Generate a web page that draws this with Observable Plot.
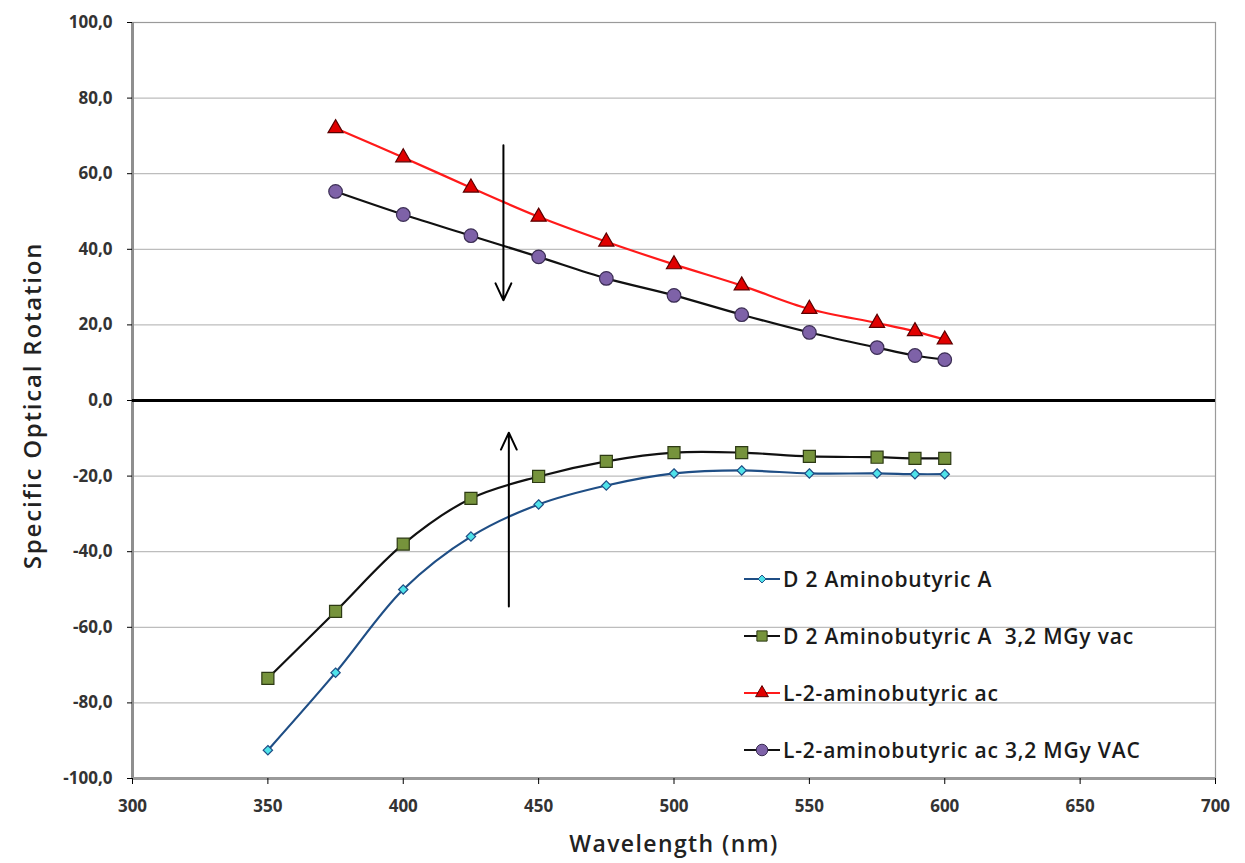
<!DOCTYPE html>
<html>
<head>
<meta charset="utf-8">
<script src="https://cdn.jsdelivr.net/npm/d3@7"></script>
<script src="https://cdn.jsdelivr.net/npm/@observablehq/plot@0.6"></script>
<style>
  html, body { margin: 0; padding: 0; background: #fff; }
  #wrap { position: relative; width: 1245px; height: 863px; font-family: "Open Sans", sans-serif; }
  #legend { position: absolute; left: 742px; top: 550px; }
  .li { display: flex; align-items: center; height: 57px; font-size: 21px; letter-spacing: 0.8px; font-weight: 600; color: #1a1a1a; white-space: pre; }
  .li svg { margin-right: 1px; }
</style>
</head>
<body>
<div id="wrap"></div>
<script>
// Data (wavelength nm -> specific optical rotation)
const wavelengths = [350, 375, 400, 425, 450, 475, 500, 525, 550, 575, 589, 600];
const dAmino      = [-92.5, -72, -50, -36, -27.5, -22.5, -19.3, -18.5, -19.3, -19.3, -19.5, -19.5];
const dAminoIrr   = [-73.5, -55.8, -38, -25.9, -20.1, -16.1, -13.8, -13.8, -14.8, -15, -15.3, -15.3];
const lWavelengths = [375, 400, 425, 450, 475, 500, 525, 550, 575, 589, 600];
const lAmino      = [72, 64.3, 56.3, 48.6, 42, 36, 30.4, 24.2, 20.5, 18.3, 16.1];
const lAminoIrr   = [55.3, 49.2, 43.6, 38, 32.3, 27.8, 22.7, 18, 14, 11.9, 10.8];
const seriesNames = ["D 2 Aminobutyric A", "D 2 Aminobutyric A  3,2 MGy vac", "L-2-aminobutyric ac", "L-2-aminobutyric ac 3,2 MGy VAC"];
const xTicks = [300, 350, 400, 450, 500, 550, 600, 650, 700];
const yTicks = [-100, -80, -60, -40, -20, 0, 20, 40, 60, 80, 100];
// annotation arrows (wavelength, from, to)
const arrowX1 = [437, 439];
const arrowFrom = [67.5, -54.5];
const arrowTo = [26.5, -8.5];

const styles = [
  {line: "#1F4E85", fill: "#4FE3EA", stroke: "#1F4E85", symbol: "diamond2", r: 4.2},
  {line: "#111111", fill: "#76933C", stroke: "#2d3a14", symbol: "square", r: 6.8},
  {line: "#FF1A1A", fill: "#E00000", stroke: "#5a0000", symbol: "triangle", r: 5.6},
  {line: "#111111", fill: "#7E62A8", stroke: "#3c2e55", symbol: "circle", r: 6.8}
];

const tables = [
  wavelengths.map((w, i) => ({x: w, y: dAmino[i]})),
  wavelengths.map((w, i) => ({x: w, y: dAminoIrr[i]})),
  lWavelengths.map((w, i) => ({x: w, y: lAmino[i]})),
  lWavelengths.map((w, i) => ({x: w, y: lAminoIrr[i]}))
];
const arrows = arrowX1.map((x, i) => ({x, y1: arrowFrom[i], y2: arrowTo[i]}));

const fmt = d => d.toFixed(1).replace(".", ",");

const marks = [
  Plot.gridY(yTicks, {stroke: "#bdbdbd", strokeOpacity: 1, strokeWidth: 1.2}),
  Plot.frame({stroke: "#9a9a9a", strokeWidth: 1.2}),
  Plot.ruleX([300], {stroke: "#8f8f8f", strokeWidth: 3}),
  Plot.ruleY([-100], {stroke: "#9a9a9a", strokeWidth: 3}),
  Plot.ruleY([0], {stroke: "#000", strokeWidth: 3.2}),
  Plot.axisY({ticks: yTicks, tickFormat: fmt, tickSize: 5, tickPadding: 15, fontSize: 17, fontWeight: "bold", fill: "#333", label: null}),
  Plot.axisX({ticks: xTicks, tickFormat: d => String(d), tickSize: 6, tickPadding: 15, fontSize: 17, fontWeight: "bold", fill: "#333", label: null}),
  Plot.text(["Specific Optical Rotation"], {frameAnchor: "left", textAnchor: "middle", dx: -99, dy: 5, rotate: -90, fontSize: 24, fontWeight: 600, fill: "#222"}),
  Plot.text(["Wavelength (nm)"], {frameAnchor: "bottom", dy: 73, fontSize: 23, fontWeight: 600, fill: "#222"})
];
tables.forEach((t, i) => {
  marks.push(Plot.line(t, {x: "x", y: "y", stroke: styles[i].line, strokeWidth: 2.2, curve: "catmull-rom"}));
});
tables.forEach((t, i) => {
  marks.push(Plot.dot(t, {x: "x", y: "y", symbol: () => styles[i].symbol, r: styles[i].r, fill: styles[i].fill, stroke: styles[i].stroke, strokeWidth: 1.2}));
});
marks.push(Plot.arrow(arrows, {x1: "x", y1: "y1", x2: "x", y2: "y2", stroke: "#000", strokeWidth: 2, headLength: 14, headAngle: 50}));

const chart = Plot.plot({
  width: 1245,
  height: 863,
  marginLeft: 132,
  marginRight: 30,
  marginTop: 22,
  marginBottom: 85,
  x: {domain: [300, 700]},
  y: {domain: [-100, 100]},
  style: {fontFamily: "Open Sans, sans-serif", background: "#fff"},
  marks
});
const wrap = document.getElementById("wrap");
wrap.appendChild(chart);
// letter spacing for titles
d3.select(chart).selectAll("text").filter(function() { return this.textContent === "Wavelength (nm)"; }).style("letter-spacing", "1.4px");
d3.select(chart).selectAll("text").filter(function() { return this.textContent === "Specific Optical Rotation"; }).style("letter-spacing", "1.8px");

// Legend
const legend = document.createElement("div");
legend.id = "legend";
seriesNames.forEach((name, i) => {
  const row = document.createElement("div");
  row.className = "li";
  const s = d3.create("svg").attr("width", 40).attr("height", 20);
  s.append("line").attr("x1", 2).attr("x2", 38).attr("y1", 10).attr("y2", 10)
    .attr("stroke", styles[i].line).attr("stroke-width", 2.2);
  const sym = {circle: d3.symbolCircle, square: d3.symbolSquare, triangle: d3.symbolTriangle, diamond2: d3.symbolDiamond2}[styles[i].symbol];
  const rr = styles[i].r * 0.85;
  s.append("path").attr("transform", "translate(20,10)")
    .attr("d", d3.symbol(sym, Math.PI * rr * rr)())
    .attr("fill", styles[i].fill).attr("stroke", styles[i].stroke).attr("stroke-width", 1);
  row.appendChild(s.node());
  const t = document.createElement("span");
  t.textContent = name;
  row.appendChild(t);
  legend.appendChild(row);
});
wrap.appendChild(legend);
</script>
</body>
</html>
